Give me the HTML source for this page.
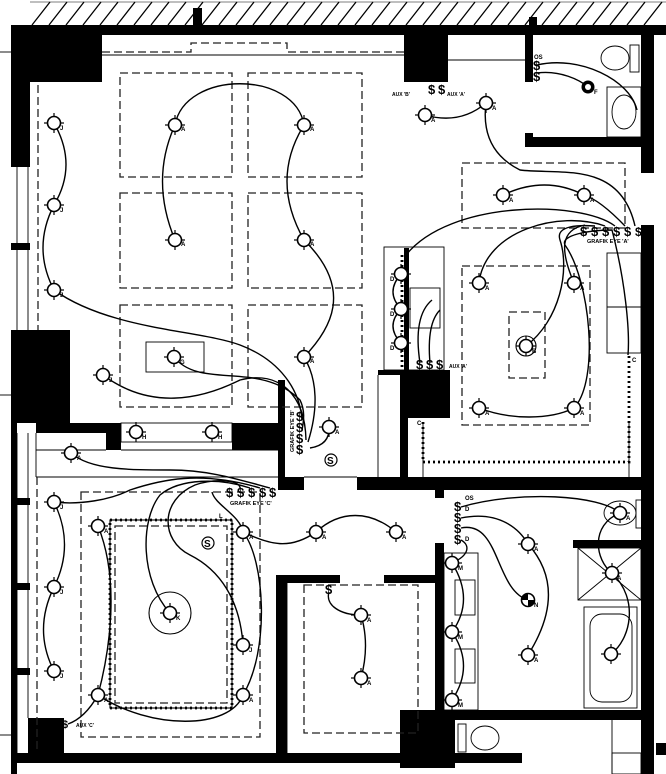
<!DOCTYPE html>
<html><head><meta charset="utf-8"><style>
html,body{margin:0;padding:0;background:#fff;width:666px;height:774px;overflow:hidden}
svg{display:block}
text{font-family:"Liberation Sans",sans-serif;font-weight:bold;fill:#000}
</style></head><body>
<svg width="666" height="774" viewBox="0 0 666 774" xmlns="http://www.w3.org/2000/svg">
<defs>
<g id="fx"><circle r="6.5" fill="#fff" stroke="#000" stroke-width="1.6"/><line x1="0" y1="-10" x2="0" y2="-6" stroke="#000" stroke-width="1.2"/><line x1="0" y1="6" x2="0" y2="10" stroke="#000" stroke-width="1.2"/><line x1="-10" y1="0" x2="-6" y2="0" stroke="#000" stroke-width="1.2"/><line x1="6" y1="0" x2="10" y2="0" stroke="#000" stroke-width="1.2"/></g>
</defs>
<!-- hatch -->
<g stroke="#000" stroke-width="1.3">
<path d="M32 25 L50 2 M49 25 L67 2 M66 25 L84 2 M83 25 L101 2 M100 25 L118 2 M117 25 L135 2 M134 25 L152 2 M151 25 L169 2 M168 25 L186 2 M185 25 L203 2 M202 25 L220 2 M219 25 L237 2 M236 25 L254 2 M253 25 L271 2 M270 25 L288 2 M287 25 L305 2 M304 25 L322 2 M321 25 L339 2 M338 25 L356 2 M355 25 L373 2 M372 25 L390 2 M389 25 L407 2 M406 25 L424 2 M423 25 L441 2 M440 25 L458 2 M457 25 L475 2 M474 25 L492 2 M491 25 L509 2 M508 25 L526 2 M525 25 L543 2 M542 25 L560 2 M559 25 L577 2 M576 25 L594 2 M593 25 L611 2 M610 25 L628 2 M627 25 L645 2 M644 25 L662 2"/>
<line x1="30" y1="2" x2="666" y2="2" stroke-width="0.6"/>
</g>
<!-- walls -->
<g fill="#000">
<rect x="11" y="25" width="655" height="10"/>
<rect x="193" y="8" width="9" height="18"/><rect x="529" y="17" width="8" height="9"/>
<rect x="11" y="25" width="19" height="142"/><rect x="11" y="25" width="91" height="57"/>
<rect x="404" y="35" width="44" height="47"/>
<rect x="525" y="25" width="8" height="57"/><rect x="525" y="133" width="8" height="14"/><rect x="525" y="137" width="121" height="10"/>
<rect x="641" y="25" width="13" height="148"/><rect x="641" y="225" width="13" height="549"/>
<rect x="11" y="243" width="19" height="7"/>
<rect x="11" y="330" width="59" height="93"/><rect x="36" y="423" width="70" height="10"/>
<rect x="106" y="423" width="15" height="27"/><rect x="232" y="423" width="46" height="27"/>
<rect x="278" y="380" width="7" height="110"/><rect x="278" y="477" width="26" height="13"/>
<rect x="357" y="477" width="289" height="13"/>
<rect x="400" y="370" width="8" height="107"/><rect x="400" y="370" width="50" height="48"/>
<rect x="378" y="370" width="22" height="5"/>
<rect x="435" y="490" width="9" height="8"/><rect x="435" y="543" width="9" height="170"/>
<rect x="276" y="575" width="11" height="180"/><rect x="276" y="575" width="64" height="8"/><rect x="384" y="575" width="58" height="8"/>
<rect x="400" y="710" width="55" height="58"/><rect x="455" y="710" width="191" height="10"/>
<rect x="11" y="753" width="511" height="10"/><rect x="11" y="420" width="6" height="354"/>
<rect x="28" y="718" width="36" height="35"/>
<rect x="11" y="498" width="19" height="7"/><rect x="11" y="583" width="19" height="7"/><rect x="11" y="668" width="19" height="7"/>
<rect x="573" y="540" width="73" height="8"/><rect x="656" y="743" width="10" height="12"/>
<rect x="404" y="248" width="5" height="122"/>
</g>
<!-- thin lines -->
<g stroke="#000" stroke-width="0.9" fill="none">
<line x1="0" y1="52" x2="11" y2="52"/><line x1="0" y1="395" x2="11" y2="395"/><line x1="0" y1="735" x2="11" y2="735"/>
<line x1="17" y1="167" x2="17" y2="330"/><line x1="28" y1="167" x2="28" y2="330"/>
<line x1="17" y1="433" x2="17" y2="753"/><line x1="28" y1="433" x2="28" y2="718"/>
<line x1="102" y1="55" x2="404" y2="55"/><line x1="448" y1="60" x2="525" y2="60"/>
<rect x="384" y="247" width="60" height="123"/><rect x="410" y="288" width="30" height="40"/>
<rect x="607" y="253" width="34" height="100"/><line x1="607" y1="307" x2="641" y2="307"/>
<rect x="607" y="87" width="34" height="50"/><ellipse cx="624" cy="112" rx="12" ry="17"/>
<ellipse cx="615" cy="58" rx="14" ry="12"/><rect x="630" y="45" width="9" height="27"/>
<rect x="146" y="342" width="58" height="30"/>
<rect x="121" y="423" width="111" height="19"/>
<line x1="36" y1="477" x2="278" y2="477"/><line x1="36" y1="450" x2="106" y2="450"/><line x1="36" y1="433" x2="36" y2="477"/>
<line x1="121" y1="450" x2="278" y2="450"/><line x1="304" y1="477" x2="357" y2="477"/><line x1="378" y1="375" x2="378" y2="477"/>
<line x1="423" y1="422" x2="423" y2="477"/><line x1="629" y1="422" x2="629" y2="477"/>
<rect x="444" y="553" width="34" height="157"/><rect x="455" y="580" width="20" height="35"/><rect x="455" y="649" width="20" height="34"/>
<rect x="584" y="607" width="53" height="101"/><rect x="590" y="614" width="42" height="88" rx="12"/>
<rect x="578" y="548" width="63" height="52"/><line x1="578" y1="548" x2="641" y2="600"/><line x1="641" y1="548" x2="578" y2="600"/>
<ellipse cx="620" cy="513" rx="16" ry="12"/><rect x="636" y="500" width="7" height="28"/>
<ellipse cx="485" cy="738" rx="14" ry="12"/><rect x="458" y="724" width="8" height="28"/>
<rect x="612" y="753" width="29" height="21"/>
<line x1="612" y1="720" x2="612" y2="774"/><line x1="287" y1="583" x2="287" y2="753"/>
<line x1="444" y1="720" x2="444" y2="753"/>
</g>
<!-- dashed -->
<g stroke="#222" stroke-width="1.3" fill="none" stroke-dasharray="8,4">
<path d="M102 52 H191 V43 H287 V52 H404"/>
<line x1="38" y1="85" x2="38" y2="330"/>
<rect x="120" y="73" width="112" height="104"/><rect x="248" y="73" width="114" height="104"/>
<rect x="120" y="193" width="112" height="95"/><rect x="248" y="193" width="114" height="95"/>
<rect x="120" y="305" width="112" height="102"/><rect x="248" y="305" width="114" height="102"/>
<rect x="462" y="163" width="163" height="65"/><rect x="462" y="266" width="128" height="159"/>
<rect x="509" y="312" width="36" height="66"/>
<line x1="37" y1="477" x2="37" y2="750"/><rect x="81" y="492" width="179" height="245"/>
<rect x="115" y="526" width="112" height="177"/>
<rect x="304" y="585" width="114" height="148"/>
</g>
<!-- dotted perimeters -->
<g stroke="#000" stroke-width="2.8" fill="none" stroke-dasharray="2,3">
<rect x="110" y="520" width="122" height="188"/>
<path d="M423 422 V462 H629 V353"/>
<line x1="402" y1="255" x2="402" y2="370"/>
</g>
<g stroke="#000" stroke-width="1.1" fill="none">
<rect x="110" y="520" width="122" height="188"/>
<circle cx="170" cy="613" r="21"/><circle cx="526" cy="346" r="10"/>
</g>
<!-- circuits -->
<g stroke="#000" stroke-width="1.4" fill="none">
<path d="M54 123 Q78 165 54 205 Q32 248 54 290 C110 330 200 330 240 345 C280 360 300 390 302 420"/>
<path d="M175 125 C185 70 295 70 304 125"/><path d="M175 125 Q150 180 175 240"/>
<path d="M304 125 Q270 180 304 240 C355 290 330 330 304 357"/>
<path d="M174 357 C200 390 260 360 300 400 C305 410 304 420 302 430"/>
<path d="M103 375 C150 410 200 400 240 380 C280 370 305 395 306 440"/>
<path d="M304 357 C318 380 318 410 308 442"/>
<path d="M329 427 Q330 445 310 448"/>
<path d="M425 115 Q460 125 486 103 Q480 150 520 170 C560 175 620 160 635 226"/>
<path d="M503 195 Q545 175 584 195 Q600 200 625 226"/>
<path d="M406 255 C450 200 580 200 615 226"/>
<path d="M479 283 C485 230 560 210 605 226"/>
<path d="M526 346 C560 320 570 270 560 240 C555 225 580 225 595 226"/>
<path d="M574 283 C560 250 560 230 585 225"/>
<path d="M479 408 C510 420 550 420 574 408"/>
<path d="M574 408 C600 380 590 280 565 245 C560 235 590 230 612 230 C625 280 630 330 628 355"/>
<path d="M401 274 Q385 292 401 309 Q385 326 401 343"/>
<path d="M420 363 C415 330 420 310 432 300"/><path d="M430 363 C428 340 430 320 440 310"/>
<path d="M537 65 C580 55 630 80 637 110"/><path d="M537 73 C560 70 580 80 588 87"/>
<path d="M71 453 C90 470 130 470 170 470 C210 470 240 480 270 488"/>
<path d="M54 502 C80 505 110 500 130 490 C160 480 200 470 260 488"/>
<path d="M54 502 Q75 545 54 587 Q33 630 54 671"/>
<path d="M170 613 C140 580 140 520 160 495 C180 478 220 478 250 488"/>
<path d="M243 645 C240 600 220 570 190 555 C160 540 160 500 195 485 C215 478 240 480 240 488"/>
<path d="M98 526 C120 580 110 650 98 695 C150 730 230 730 243 695 C270 650 265 560 243 532 C240 515 215 505 212 492"/>
<path d="M243 532 C270 545 290 550 316 532 C340 510 370 510 396 532"/>
<path d="M329 592 C325 605 340 615 361 615 Q370 645 361 678"/>
<path d="M461 507 C520 490 600 495 620 513"/><path d="M461 518 C500 510 520 530 528 544 C560 580 550 620 528 655"/>
<path d="M461 528 C500 520 495 590 528 600"/><path d="M461 540 C470 545 470 555 452 563"/>
<path d="M452 563 Q475 600 452 632 Q475 666 452 700"/>
<path d="M620 513 C590 525 595 560 612 573 C640 600 630 640 611 654"/>
<path d="M68 724 Q85 718 98 695"/>
</g>
<!-- fixtures -->
<g>
<use href="#fx" x="175" y="125"/><use href="#fx" x="304" y="125"/><use href="#fx" x="175" y="240"/><use href="#fx" x="304" y="240"/><use href="#fx" x="304" y="357"/>
<use href="#fx" x="54" y="123"/><use href="#fx" x="54" y="205"/><use href="#fx" x="54" y="290"/><use href="#fx" x="103" y="375"/><use href="#fx" x="174" y="357"/>
<use href="#fx" x="425" y="115"/><use href="#fx" x="486" y="103"/><use href="#fx" x="503" y="195"/><use href="#fx" x="584" y="195"/>
<use href="#fx" x="479" y="283"/><use href="#fx" x="574" y="283"/><use href="#fx" x="526" y="346"/><use href="#fx" x="479" y="408"/><use href="#fx" x="574" y="408"/>
<use href="#fx" x="401" y="274"/><use href="#fx" x="401" y="309"/><use href="#fx" x="401" y="343"/>
<use href="#fx" x="329" y="427"/><use href="#fx" x="136" y="432"/><use href="#fx" x="212" y="432"/><use href="#fx" x="71" y="453"/>
<use href="#fx" x="54" y="502"/><use href="#fx" x="54" y="587"/><use href="#fx" x="54" y="671"/>
<use href="#fx" x="98" y="526"/><use href="#fx" x="243" y="532"/><use href="#fx" x="316" y="532"/><use href="#fx" x="396" y="532"/>
<use href="#fx" x="243" y="645"/><use href="#fx" x="98" y="695"/><use href="#fx" x="243" y="695"/><use href="#fx" x="170" y="613"/>
<use href="#fx" x="361" y="615"/><use href="#fx" x="361" y="678"/>
<use href="#fx" x="452" y="563"/><use href="#fx" x="452" y="632"/><use href="#fx" x="452" y="700"/>
<use href="#fx" x="528" y="544"/><use href="#fx" x="528" y="655"/><use href="#fx" x="620" y="513"/><use href="#fx" x="612" y="573"/><use href="#fx" x="611" y="654"/>
</g>
<circle cx="528" cy="600" r="6.5" fill="#fff" stroke="#000" stroke-width="1.6"/>
<path d="M528 600 L522 600 A6 6 0 0 1 528 594 Z M528 600 L534 600 A6 6 0 0 1 528 606 Z" fill="#000"/>
<circle cx="588" cy="87" r="6.5" fill="#000"/><circle cx="588" cy="87" r="3" fill="#fff"/>
<!-- labels -->
<g font-size="6">
<text x="181" y="131">A</text><text x="310" y="131">A</text><text x="181" y="246">A</text><text x="310" y="246">A</text><text x="310" y="363">A</text>
<text x="60" y="130">J</text><text x="60" y="212">J</text><text x="60" y="297">J</text><text x="109" y="382">J</text><text x="180" y="364">G</text>
<text x="431" y="122">A</text><text x="492" y="110">A</text><text x="509" y="202">A</text><text x="590" y="202">A</text>
<text x="485" y="290">A</text><text x="580" y="290">A</text><text x="485" y="415">A</text><text x="580" y="415">A</text><text x="532" y="353">B</text>
<text x="390" y="281">D</text><text x="390" y="316">D</text><text x="390" y="350">D</text>
<text x="335" y="434">A</text><text x="142" y="439">H</text><text x="218" y="439">H</text><text x="77" y="460">A</text>
<text x="60" y="509">J</text><text x="60" y="594">J</text><text x="60" y="678">J</text>
<text x="104" y="533">A</text><text x="249" y="539">A</text><text x="322" y="539">A</text><text x="402" y="539">A</text>
<text x="249" y="652">J</text><text x="104" y="702">A</text><text x="249" y="702">A</text><text x="176" y="620">K</text>
<text x="367" y="622">A</text><text x="367" y="685">A</text>
<text x="458" y="570">M</text><text x="458" y="639">M</text><text x="458" y="707">M</text>
<text x="534" y="551">A</text><text x="534" y="607">N</text><text x="534" y="662">A</text><text x="626" y="520">A</text><text x="617" y="580">A</text>
<text x="594" y="94">F</text><text x="632" y="362">C</text><text x="417" y="425">C</text><text x="219" y="518">L</text>
<text x="534" y="59">OS</text><text x="465" y="500">OS</text><text x="465" y="511">D</text><text x="465" y="541">D</text>
<text x="392" y="96" font-size="5">AUX 'B'</text><text x="447" y="96" font-size="5">AUX 'A'</text>
<text x="449" y="368" font-size="5">AUX 'A'</text><text x="76" y="727" font-size="5">AUX 'C'</text>
<text x="587" y="243" font-size="5.5">GRAFIK EYE 'A'</text>
<text x="230" y="505" font-size="5.5">GRAFIK EYE 'C'</text>
<text transform="translate(294,452) rotate(-90)" font-size="5.5">GRAFIK EYE 'B'</text>
</g>
<g font-size="13">
<text x="428" y="94">$</text><text x="438" y="94">$</text>
<text x="580" y="236">$</text><text x="591" y="236">$</text><text x="602" y="236">$</text><text x="613" y="236">$</text><text x="624" y="236">$</text><text x="635" y="236" font-size="12">$</text>
<text x="416" y="369">$</text><text x="426" y="369">$</text><text x="436" y="369">$</text>
<text x="296" y="421">$</text><text x="296" y="432">$</text><text x="296" y="443">$</text><text x="296" y="454">$</text>
<text x="226" y="497">$</text><text x="237" y="497">$</text><text x="248" y="497">$</text><text x="259" y="497">$</text><text x="269" y="497">$</text>
<text x="325" y="594">$</text>
<text x="533" y="70">$</text><text x="533" y="81">$</text>
<text x="454" y="511">$</text><text x="454" y="522">$</text><text x="454" y="533">$</text><text x="454" y="544">$</text>
<text x="62" y="728" font-size="11">$</text>
</g>
<g font-size="10"><circle cx="331" cy="460" r="6" fill="none" stroke="#000" stroke-width="1.2"/><text x="327" y="464">S</text>
<circle cx="208" cy="543" r="6" fill="none" stroke="#000" stroke-width="1.2"/><text x="204" y="547">S</text></g>
</svg>
</body></html>
